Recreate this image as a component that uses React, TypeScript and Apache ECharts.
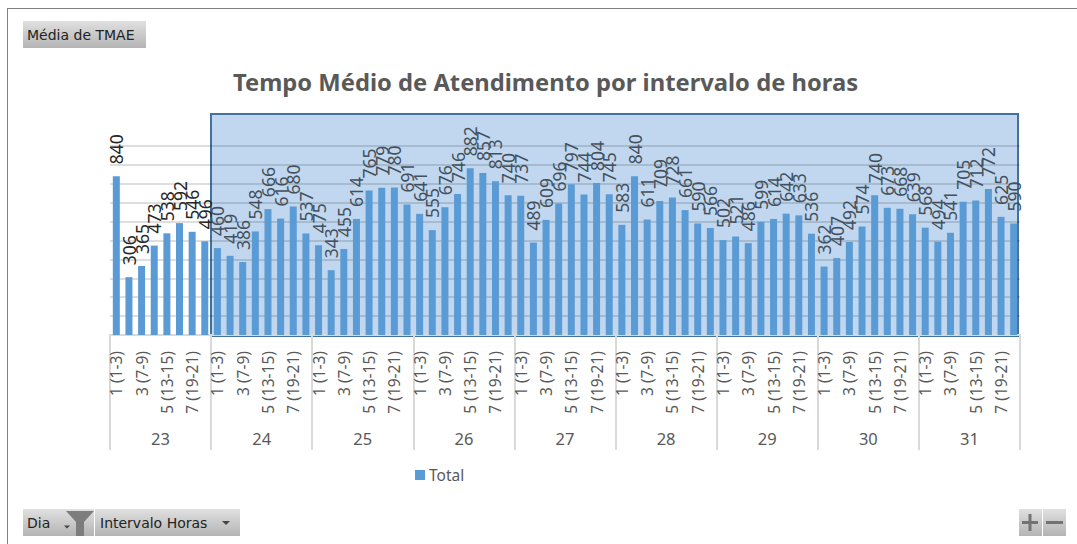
import React, { useEffect, useRef } from "react";
import * as echarts from "echarts";

const days = ["23", "24", "25", "26", "27", "28", "29", "30", "31"];
const intervals = ["1 (1-3)", "2 (4-6)", "3 (7-9)", "4 (10-12)", "5 (13-15)", "6 (16-18)", "7 (19-21)", "8 (22-24)"];
const day23 = [840, 306, 365, 473, 538, 592, 546, 496];
const day24 = [460, 419, 386, 548, 666, 616, 680, 537];
const day25 = [475, 343, 455, 614, 765, 779, 780, 691];
const day26 = [641, 555, 676, 746, 882, 857, 813, 740];
const day27 = [737, 489, 609, 696, 797, 744, 804, 745];
const day28 = [583, 840, 611, 709, 728, 661, 590, 566];
const day29 = [502, 521, 486, 599, 614, 642, 633, 536];
const day30 = [362, 407, 492, 574, 740, 673, 668, 639];
const day31 = [568, 494, 541, 705, 712, 772, 625, 590];
const perDay = [day23, day24, day25, day26, day27, day28, day29, day30, day31];
const values = perDay.flat();
const categories = days.flatMap((d) => intervals.map((n) => `${n}|${d}`));

const FONT = "'Noto Sans', sans-serif";
const UI_FONT = "'DejaVu Sans', sans-serif";
const btnFill = {
  type: "linear", x: 0, y: 0, x2: 0, y2: 1,
  colorStops: [{ offset: 0, color: "#e0e0e0" }, { offset: 1, color: "#b4b4b4" }],
};

function button(x: number, y: number, w: number, h: number) {
  return { type: "rect", shape: { x, y, width: w, height: h }, style: { fill: btnFill } };
}
function uiText(x: number, y: number, text: string) {
  return {
    type: "text", x, y,
    style: { text, fill: "#222222", font: `14px ${UI_FONT}`, textVerticalAlign: "middle", verticalAlign: "middle" },
  };
}
function arrow(cx: number, cy: number, half: number, fill: string) {
  return {
    type: "polygon",
    shape: { points: [[cx - half, cy - half / 2], [cx + half, cy - half / 2], [cx, cy + half / 2]] },
    style: { fill },
  };
}

export default function App() {
  const ref = useRef<HTMLDivElement>(null);
  useEffect(() => {
    document.body.style.margin = "0";
    document.body.style.background = "#ffffff";
    const chart = echarts.init(ref.current!, undefined, { renderer: "svg" });
    chart.setOption({
      animation: false,
      backgroundColor: "#ffffff",
      title: {
        text: "Tempo Médio de Atendimento por intervalo de horas",
        left: 540.5, top: 65, textAlign: "center",
        textStyle: { fontFamily: FONT, fontWeight: "bold", fontSize: 23.75, color: "#595959" },
      },
      legend: {
        data: ["Total"], left: 410, top: 462, itemWidth: 10, itemHeight: 10, icon: "rect", itemGap: 4,
        textStyle: { fontFamily: FONT, fontSize: 15.5, color: "#595959", padding: [0, 0, 0, -1] },
      },
      grid: { left: 110, right: 57, top: 146, height: 189, containLabel: false },
      xAxis: [
        {
          type: "category", data: categories, position: "bottom",
          axisLine: { show: true, lineStyle: { color: "#d9d9d9", width: 2 } },
          axisTick: { show: false },
          axisLabel: {
            interval: 1, rotate: 90, margin: 16, fontFamily: FONT, fontSize: 15.5, color: "#595959",
            formatter: (v: string) => v.split("|")[0],
          },
        },
        {
          type: "category", data: days, position: "bottom",
          axisLine: { show: false },
          axisTick: { show: true, length: 115, lineStyle: { color: "#d9d9d9", width: 2 } },
          axisLabel: { margin: 95, fontFamily: FONT, fontSize: 16.5, color: "#595959" },
        },
      ],
      yAxis: {
        type: "value", min: 0, max: 1000, interval: 100,
        axisLabel: { show: false }, axisLine: { show: false }, axisTick: { show: false },
        splitLine: { show: true, lineStyle: { color: "rgba(0,0,0,0.13)", width: 2 } },
      },
      series: [
        {
          name: "Total", type: "bar", xAxisIndex: 0, barWidth: 7,
          itemStyle: { color: "#5b9bd5" },
          label: {
            show: true, position: "top", rotate: 90, align: "left", verticalAlign: "middle", distance: 12,
            fontFamily: FONT, fontSize: 17.5, color: "#44505c",
          },
          data: values.map((v, i) => ({ value: v, label: { color: i < 8 ? "#262626" : "#44505c" } })),
        },
      ],
      graphic: [
        { type: "rect", z: -1, shape: { x: 0, y: 0, width: 1200, height: 700 }, style: { fill: "#ffffff" } },
        {
          type: "rect", z: -1,
          shape: { x: 211, y: 114, width: 807, height: 222 },
          style: { fill: "#c0d7ef", stroke: "#41719c", lineWidth: 2 },
        },
        { type: "line", shape: { x1: 8, y1: 8.5, x2: 1077, y2: 8.5 }, style: { stroke: "#808080", lineWidth: 1 } },
        { type: "line", shape: { x1: 7.5, y1: 8, x2: 7.5, y2: 544 }, style: { stroke: "#808080", lineWidth: 1 } },
        button(23, 21, 123, 27),
        uiText(27, 35, "Média de TMAE"),
        button(23, 509, 71, 27),
        button(95, 509, 145, 27),
        uiText(27, 523, "Dia"),
        arrow(67, 527, 3, "#444444"),
        {
          type: "polygon",
          shape: { points: [[66, 511], [94, 511], [84, 522], [84, 536], [76, 536], [76, 522]] },
          style: { fill: "#7d7d7d" },
        },
        uiText(100, 523, "Intervalo Horas"),
        arrow(226, 523, 4, "#444444"),
        button(1019, 509, 23, 27),
        button(1043, 509, 23, 27),
        { type: "rect", shape: { x: 1022, y: 521, width: 16, height: 3 }, style: { fill: "#737373" } },
        { type: "rect", shape: { x: 1028.5, y: 514, width: 3, height: 17 }, style: { fill: "#737373" } },
        { type: "rect", shape: { x: 1046, y: 521, width: 17, height: 3 }, style: { fill: "#737373" } },
      ],
    });
    return () => chart.dispose();
  }, []);
  return <div ref={ref} style={{ position: "fixed", left: 0, top: 0, width: 1077, height: 544 }} />;
}
